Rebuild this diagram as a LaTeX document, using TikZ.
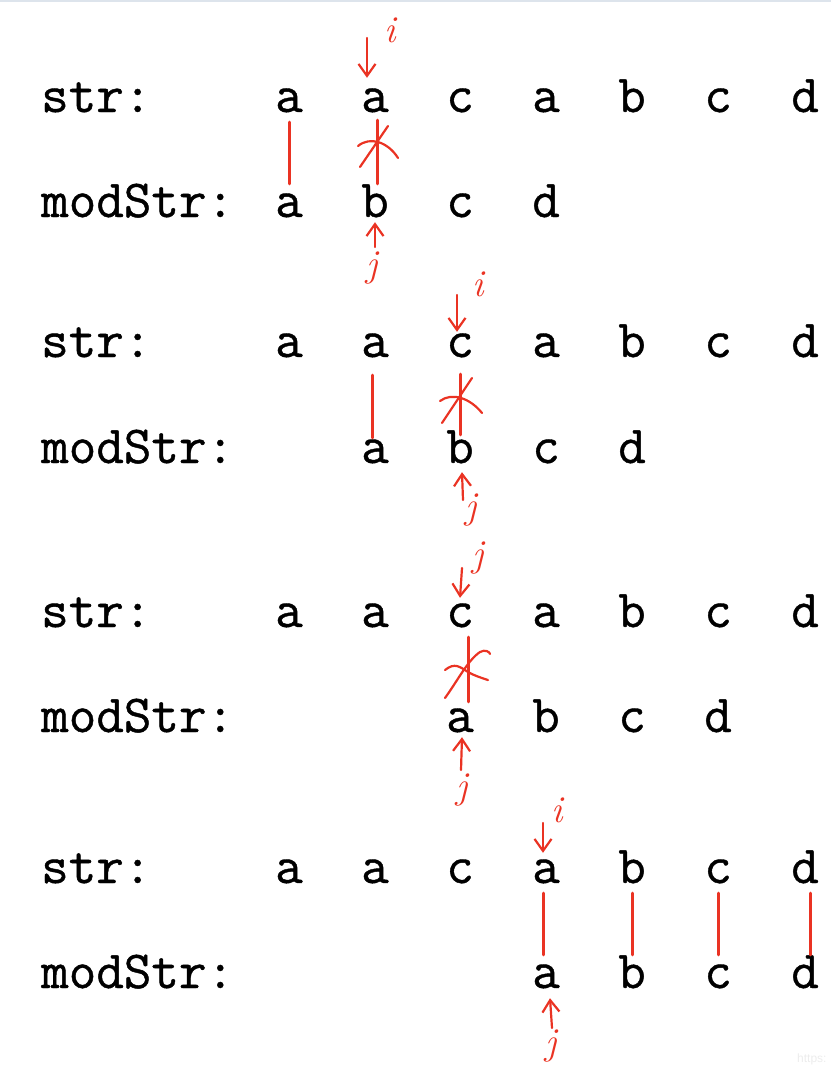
\documentclass[tikz,border=0pt]{standalone}
\usepackage{fontspec}
\newfontfamily\wmfont{Liberation Sans}
\newfontfamily\codefont[FakeBold=0.8]{Latin Modern Mono}
\usetikzlibrary{arrows.meta}
\definecolor{pen}{RGB}{234,51,35}
\definecolor{topbar}{RGB}{221,228,236}
\definecolor{wm}{RGB}{236,236,236}
\begin{document}
\begin{tikzpicture}[x=1pt,y=-1pt,
  txt/.style={font=\codefont\fontsize{53.5}{53.5}\selectfont, inner sep=0pt, anchor=base, text height=33pt, text depth=10pt},
  lbl/.style={font=\codefont\fontsize{53.5}{53.5}\selectfont, inner sep=0pt, anchor=base west},
  ink/.style={draw=pen, line width=3pt, line cap=round},
  hand/.style={draw=pen, line width=2.2pt, line cap=round, line join=round},
  parr/.style={hand, -{Straight Barb[length=12pt,width=17pt,line width=2.2pt]}},
  pname/.style={text=pen, font=\itshape\fontsize{38}{38}\selectfont, inner sep=0pt}]
\useasboundingbox (0,0) rectangle (831,1073);
\fill[topbar] (0,0) rectangle (831,2);

% ---------- row 1 ----------
\node[lbl] (s1l) at (41,112) {str:};
\node[lbl] (m1l) at (41,217) {modStr:};
\foreach \c/\t/\x in {1/a/289,2/a/375,3/c/460,4/a/546,5/b/632,6/c/718,7/d/805}
  \node[txt] (s1c\c) at (\x,112) {\t};
\foreach \c/\t/\x in {1/a/289,2/b/375,3/c/460,4/d/546}
  \node[txt] (m1c\c) at (\x,217) {\t};
\draw[ink] (s1c1.south) -- (m1c1.north);
\draw[ink] ([xshift=2pt,yshift=2pt]s1c2.south) -- ([xshift=2pt]m1c2.north);
\draw[hand] (360,167) -- (388,126);
\draw[hand] (358,146) .. controls (370,136) and (388,142) .. (398,158);
\coordinate (i1t) at (367,38);
\draw[parr] (i1t) -- ([xshift=-8pt,yshift=1pt]s1c2.north);
\node[pname] (i1) at (390,30) {i};
\coordinate (j1t) at (375,247);
\draw[parr] (j1t) -- ([yshift=5pt]m1c2.south);
\node[pname] (j1) at (372,268) {j};

% ---------- row 2 ----------
\node[lbl] (s2l) at (41,357) {str:};
\node[lbl] (m2l) at (41,463) {modStr:};
\foreach \c/\t/\x in {1/a/289,2/a/375,3/c/460,4/a/546,5/b/632,6/c/718,7/d/805}
  \node[txt] (s2c\c) at (\x,357) {\t};
\foreach \c/\t/\x in {1/a/375,2/b/460,3/c/546,4/d/632}
  \node[txt] (m2c\c) at (\x,463) {\t};
\draw[ink] ([xshift=-3pt,yshift=-8pt]s2c2.south) -- ([xshift=-3pt,yshift=-8pt]m2c1.north);
\draw[ink] ([yshift=-7pt]s2c3.south) -- ([yshift=-5pt]m2c2.north);
\draw[hand] (442,423) -- (472,378);
\draw[hand] (440,401) .. controls (452,392) and (470,398) .. (482,413);
\coordinate (i2t) at (457,295);
\draw[parr] (i2t) -- ([xshift=-3pt,yshift=-8pt]s2c3.north);
\node[pname] (i2) at (478,284) {i};
\coordinate (j2t) at (463,500);
\draw[parr] (j2t) -- ([xshift=2pt,yshift=1pt]m2c2.south);
\node[pname] (j2) at (471,510) {j};

% ---------- row 3 ----------
\node[lbl] (s3l) at (41,627) {str:};
\node[lbl] (m3l) at (41,732) {modStr:};
\foreach \c/\t/\x in {1/a/289,2/a/375,3/c/460,4/a/546,5/b/632,6/c/718,7/d/805}
  \node[txt] (s3c\c) at (\x,627) {\t};
\foreach \c/\t/\x in {1/a/460,2/b/546,3/c/632,4/d/718}
  \node[txt] (m3c\c) at (\x,732) {\t};
\draw[ink] ([xshift=8pt]s3c3.south) -- ([xshift=8pt,yshift=-3pt]m3c1.north);
\draw[hand] (445,670) .. controls (455,662) and (460,667) .. (468,672) .. controls (475,676) and (482,678) .. (488,680);
\draw[hand] (445,698) .. controls (458,680) and (468,660) .. (480,652) .. controls (485,649) and (490,652) .. (490,654);
\coordinate (j3t) at (462,568);
\draw[parr] (j3t) -- ([yshift=-4pt]s3c3.north);
\node[pname] (j3a) at (478,558) {j};
\coordinate (j3b) at (461,770);
\draw[parr] (j3b) -- ([xshift=2pt,yshift=5pt]m3c1.south);
\node[pname] (j3) at (462,790) {j};

% ---------- row 4 ----------
\node[lbl] (s4l) at (41,883) {str:};
\node[lbl] (m4l) at (41,988) {modStr:};
\foreach \c/\t/\x in {1/a/289,2/a/375,3/c/460,4/a/546,5/b/632,6/c/718,7/d/805}
  \node[txt] (s4c\c) at (\x,883) {\t};
\foreach \c/\t/\x in {1/a/546,2/b/632,3/c/718,4/d/805}
  \node[txt] (m4c\c) at (\x,988) {\t};
\draw[ink] ([xshift=-3pt]s4c4.south) -- ([xshift=-3pt]m4c1.north);
\draw[ink] (s4c5.south) -- (m4c2.north);
\draw[ink] (s4c6.south) -- (m4c3.north);
\draw[ink] ([xshift=5pt]s4c7.south) -- ([xshift=5pt]m4c4.north);
\coordinate (i4t) at (543,823);
\draw[parr] (i4t) -- ([xshift=-3pt,yshift=-3pt]s4c4.north);
\node[pname] (i4) at (557,810) {i};
\coordinate (j4t) at (552,1028);
\draw[parr] (j4t) -- ([xshift=4pt]m4c1.south);
\node[pname] (j4) at (551,1046) {j};

\node[font=\wmfont\fontsize{12}{12}\selectfont, text=wm, anchor=base west, inner sep=0pt] (wm) at (797,1062) {https:};
\end{tikzpicture}
\end{document}
